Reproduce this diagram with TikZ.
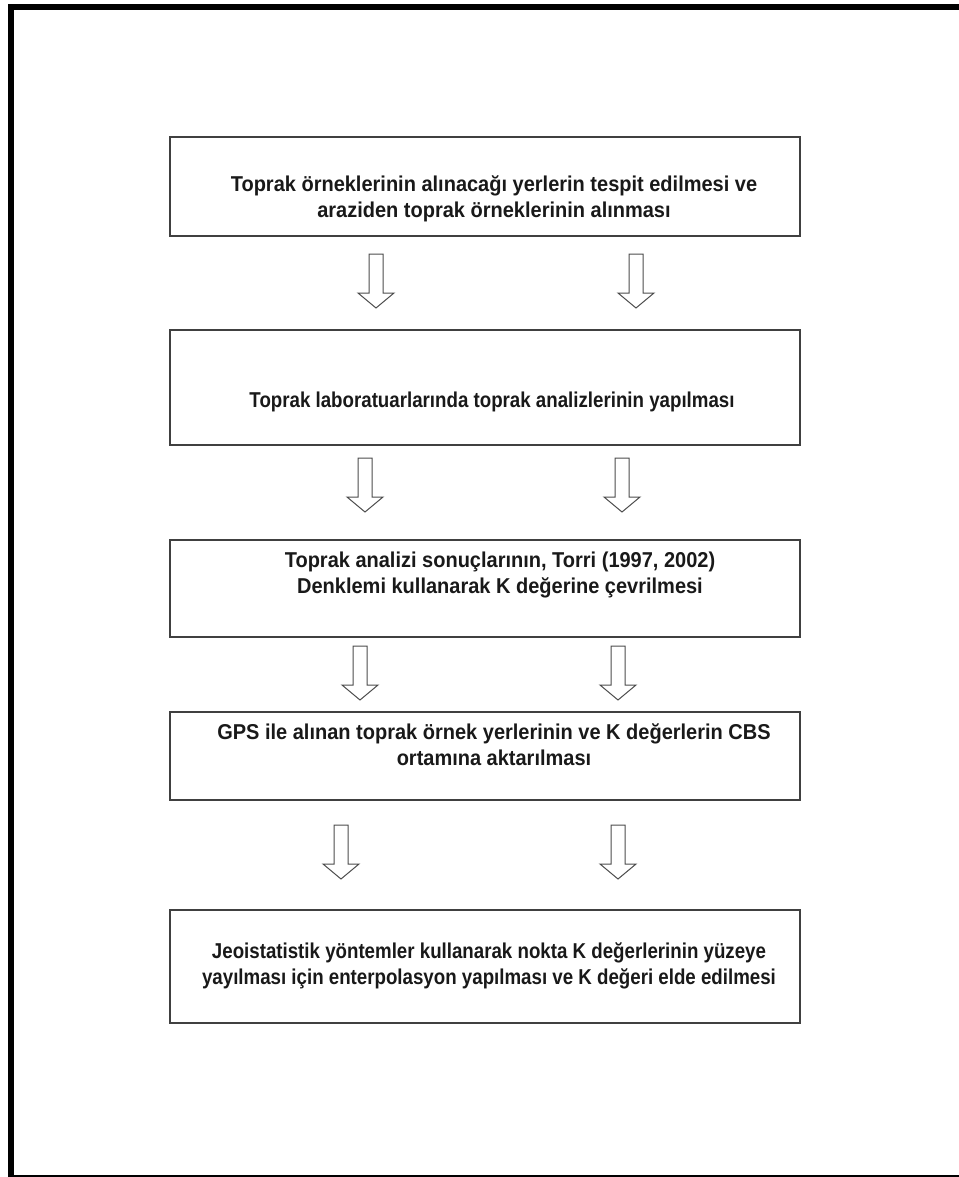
\documentclass[tikz,border=0pt]{standalone}
\usepackage{fontspec}
\setmainfont{Liberation Sans}[FakeStretch=0.93]
\usetikzlibrary{positioning}

\tikzset{
  stepbox/.style={draw=black!75, line width=1.2pt, minimum width=630pt, inner sep=0pt},
  steptext/.style={font=\bfseries\fontsize{21.5}{26}\selectfont, align=center, text=black!90, inner sep=0pt},
  narrowtext/.style={steptext, font=\bfseries\fontsize{21.5}{26}\selectfont\addfontfeature{FakeStretch=0.87}},
  arrowline/.style={draw=black!70, line width=1pt, line join=miter},
  downarrow/.pic={
    \draw[arrowline] (-7,0) -- (7,0) -- (7,39) -- (18,39) -- (0,54) -- (-18,39) -- (-7,39) -- cycle;
  }
}

\begin{document}
\begin{tikzpicture}[x=1pt, y=-1pt]
        \useasboundingbox (0,0) rectangle (958,1177);

        % Cerceve
        \draw[line width=6pt] (11,7) rectangle (961.5,1178);

        % Kutular
        \node[stepbox, minimum height=99pt]  (b1) at (485,186.5) {};
        \node[stepbox, minimum height=115pt] (b2) at (485,387.5) {};
        \node[stepbox, minimum height=97pt]  (b3) at (485,588.5) {};
        \node[stepbox, minimum height=88pt]  (b4) at (485,756) {};
        \node[stepbox, minimum height=113pt] (b5) at (485,966.5) {};

        % Metinler
        \node[steptext] (t1) at (494,199) {Toprak örneklerinin alınacağı yerlerin tespit edilmesi ve\\araziden toprak örneklerinin alınması};
        \node[narrowtext] (t2) at (492,402) {Toprak laboratuarlarında toprak analizlerinin yapılması};
        \node[steptext] (t3) at (500,575) {Toprak analizi sonuçlarının, Torri (1997, 2002)\\Denklemi kullanarak K değerine çevrilmesi};
        \node[steptext] (t4) at (494,745) {GPS ile alınan toprak örnek yerlerinin ve K değerlerin CBS\\ortamına aktarılması};
        \node[narrowtext] (t5) at (489,966) {Jeoistatistik yöntemler kullanarak nokta K değerlerinin yüzeye\\yayılması için enterpolasyon yapılması ve K değeri elde edilmesi};

        % Oklar
        \pic (o1a) at (376,254) {downarrow};
        \pic (o1b) at (636,254) {downarrow};
        \pic (o2a) at (365,458) {downarrow};
        \pic (o2b) at (622,458) {downarrow};
        \pic (o3a) at (360,646) {downarrow};
        \pic (o3b) at (618,646) {downarrow};
        \pic (o4a) at (341,825) {downarrow};
        \pic (o4b) at (618,825) {downarrow};
\end{tikzpicture}
\end{document}
